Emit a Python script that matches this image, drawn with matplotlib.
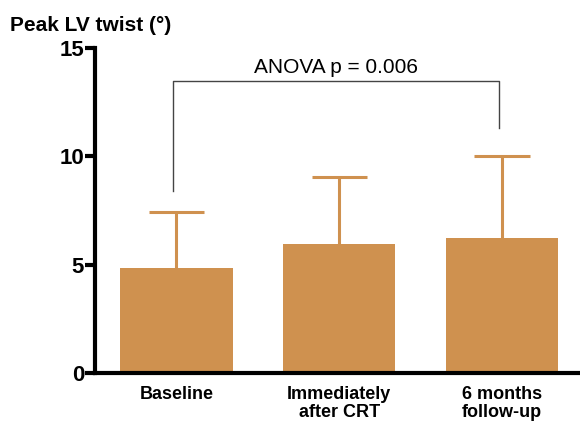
import numpy as np
import matplotlib.pyplot as plt

plt.rcParams['font.family'] = ['Liberation Sans', 'DejaVu Sans']

groups = ['Baseline', 'Immediately\nafter CRT', '6 months\nfollow-up']
twist_mean = [4.85, 5.95, 6.25]
twist_sd = [2.6, 3.1, 3.75]
p_value = 0.006

bar_color = '#CF914F'

fig = plt.figure(figsize=(5.8, 4.23), dpi=100)
ax = fig.add_axes([0.164, 0.118, 0.836, 0.769])

x = np.arange(len(groups))
mean = np.array(twist_mean)
upper = mean + np.array(twist_sd)
ax.bar(x, mean, width=0.69, color=bar_color, zorder=2)
# upper-only error bars
ax.vlines(x, mean, upper, color=bar_color, lw=2.2, zorder=1)
ax.hlines(upper, x - 0.17, x + 0.17, color=bar_color, lw=2.2, zorder=1)

# bracket between baseline and follow-up
left_x, right_x = x[0] - 0.02, x[2] - 0.02
top = 13.45
ax.plot([left_x, left_x, right_x, right_x],
        [upper[0] + 0.95, top, top, upper[2] + 1.3],
        color='#444444', lw=1.0)
ax.text((left_x + right_x) / 2, top + 0.2, f'ANOVA p = {p_value}',
        ha='center', va='bottom', fontsize=15)

ax.set_xlim(-0.5, 2.48)
ax.set_ylim(0, 15)
ax.set_yticks([0, 5, 10, 15])
ax.set_xticks(x)
ax.set_xticklabels(groups, fontsize=13, fontweight='bold', linespacing=1.1)
for lab in ax.get_yticklabels():
    lab.set_fontsize(16)
    lab.set_fontweight('bold')
ax.tick_params(axis='y', width=3, length=7, pad=1)
ax.tick_params(axis='x', length=0, pad=9)

for side in ['top', 'right']:
    ax.spines[side].set_visible(False)
for side in ['left', 'bottom']:
    ax.spines[side].set_linewidth(3)

fig.text(0.017, 0.94, 'Peak LV twist (°)', fontsize=15, fontweight='bold',
         ha='left', va='center')

fig.savefig('out.png', dpi=100)
